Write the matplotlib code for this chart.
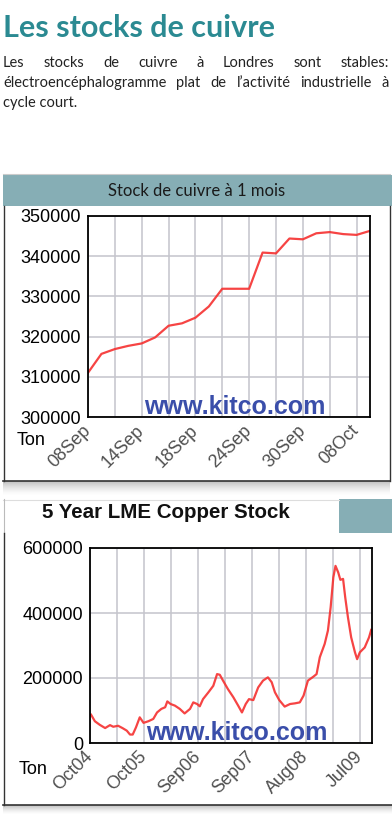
import matplotlib
matplotlib.use("Agg")
import matplotlib.pyplot as plt
from matplotlib.patches import Rectangle
from matplotlib.lines import Line2D
from matplotlib import font_manager

# --- data -------------------------------------------------------------
month_days = list(range(22))  # trading days from 08 Sep
month_stock = [311000, 315700, 316900, 317700, 318300, 319800, 322700, 323300,
               324700, 327500, 331900, 331900, 331900, 340900, 340700, 344400,
               344200, 345700, 346000, 345500, 345300, 346300]
month_ticks = [0, 4, 8, 12, 16, 20]
month_labels = ["08Sep", "14Sep", "18Sep", "24Sep", "30Sep", "08Oct"]
month_yticks = [300000, 310000, 320000, 330000, 340000, 350000]

lme_dates = [2004.77, 2004.84, 2004.93, 2005.03, 2005.12, 2005.18, 2005.27, 2005.35,
             2005.43, 2005.49, 2005.54, 2005.60, 2005.67, 2005.74, 2005.83, 2005.92,
             2005.99, 2006.07, 2006.14, 2006.18, 2006.24, 2006.32, 2006.41, 2006.50,
             2006.60, 2006.66, 2006.73, 2006.78, 2006.84, 2006.94, 2007.03, 2007.10,
             2007.15, 2007.21, 2007.30, 2007.40, 2007.49, 2007.56, 2007.63, 2007.69,
             2007.77, 2007.86, 2007.95, 2008.04, 2008.11, 2008.17, 2008.25, 2008.35,
             2008.45, 2008.54, 2008.63, 2008.70, 2008.78, 2008.88, 2008.94, 2009.00,
             2009.09, 2009.15, 2009.20, 2009.25, 2009.29, 2009.34, 2009.38, 2009.43,
             2009.47, 2009.52, 2009.58, 2009.65, 2009.69, 2009.74, 2009.83, 2009.91,
             2009.95]
lme_stock = [87000, 67000, 56000, 46000, 55000, 50000, 53000, 46000,
             38000, 26000, 26000, 48000, 79000, 62000, 67000, 74000,
             94000, 105000, 110000, 128000, 120000, 115000, 105000, 91000,
             105000, 125000, 120000, 113000, 135000, 156000, 176000, 212000,
             210000, 192000, 166000, 141000, 115000, 94000, 120000, 135000,
             132000, 171000, 192000, 202000, 187000, 156000, 132000, 112000,
             120000, 122000, 125000, 146000, 192000, 204000, 212000, 264000,
             305000, 346000, 417000, 510000, 545000, 525000, 502000, 505000,
             448000, 387000, 325000, 279000, 258000, 279000, 294000, 325000,
             348000]
lme_ticks = [2004.75, 2005.75, 2006.75, 2007.75, 2008.75, 2009.75]
lme_labels = ["Oct04", "Oct05", "Sep06", "Sep07", "Aug08", "Jul09"]
lme_yticks = [0, 200000, 400000, 600000]

title = "Les stocks de cuivre"
body1 = "Les stocks de cuivre à Londres sont stables:"
body2 = "électroencéphalogramme plat de l’activité industrielle à"
body3 = "cycle court."
panel1_title = "Stock de cuivre à 1 mois"
panel2_title = "5 Year LME Copper Stock"

# --- figure -----------------------------------------------------------
W, H = 392, 814
fig = plt.figure(figsize=(W / 100, H / 100), dpi=100)
fig.patch.set_facecolor("white")


def fx(x):
    return x / W


def fy(y):
    return 1 - y / H


def has_font(name):
    try:
        font_manager.findfont(name, fallback_to_default=False)
        return True
    except Exception:
        return False


narrow = "Liberation Sans Narrow" if has_font("Liberation Sans Narrow") else "Lato"
teal = "#2b8a92"
band = "#86aeb5"
line_red = "#f5302f"
blue = "#3a4eaa"


def rect(x0, y0, x1, y1, **kw):
    r = Rectangle((fx(x0), fy(y1)), fx(x1) - fx(x0), fy(y0) - fy(y1),
                  transform=fig.transFigure, **kw)
    fig.add_artist(r)


def hline(x0, x1, y, **kw):
    fig.add_artist(Line2D([fx(x0), fx(x1)], [fy(y), fy(y)], transform=fig.transFigure, **kw))


def vline(x, y0, y1, **kw):
    fig.add_artist(Line2D([fx(x), fx(x)], [fy(y0), fy(y1)], transform=fig.transFigure, **kw))


def shadow(x0, x1, y, n=14):
    for i in range(n):
        rect(x0, y + i, x1, y + i + 1, color="#666666", alpha=0.4 * (1 - i / n) ** 1.5, lw=0)


# header text
fig.text(fx(3), fy(37), title, color=teal, fontsize=22, fontweight="bold",
         family="Lato", ha="left", va="baseline")


def justify(text, y, x0, x1, **kw):
    words = text.split()
    ts = [fig.text(0, fy(y), w, ha="left", va="baseline", **kw) for w in words]
    fig.canvas.draw()
    r = fig.canvas.get_renderer()
    widths = [t.get_window_extent(r).width for t in ts]
    gap = ((x1 - x0) - sum(widths)) / (len(words) - 1)
    x = x0
    for t, w in zip(ts, widths):
        t.set_x(fx(x))
        x += w + gap


body_kw = dict(fontsize=10.5, family="Lato", color="#222222")
justify(body1, 67, 3, 389, **body_kw)
justify(body2, 87, 3, 389, **body_kw)
fig.text(fx(3), fy(107), body3, ha="left", va="baseline", **body_kw)

# panel 1 frame
shadow(3, 390, 481)
hline(3, 390, 173.5, color="#cccccc", lw=0.8)
rect(3, 175, 392, 206, color=band, lw=0)
vline(3.5, 206, 481, color="#333333", lw=1.0)
vline(389.5, 206, 481, color="#333333", lw=1.0)
hline(3, 390, 481, color="#333333", lw=1.2)
fig.text(fx(197), fy(191), panel1_title, family=narrow, fontsize=12,
         color="#1a1a1a", ha="center", va="center")

# panel 2 frame
shadow(3, 392, 805, n=9)
hline(3, 339, 499.5, color="#dddddd", lw=0.8)
rect(339, 499, 392, 533, color=band, lw=0)
vline(3.5, 499, 533, color="#bbbbbb", lw=0.8)
vline(3.5, 533, 805, color="#333333", lw=1.0)
hline(3, 392, 805, color="#333333", lw=1.2)
fig.text(fx(42), fy(513), panel2_title, family="Liberation Sans", fontsize=14.8,
         fontweight="bold", color="#111111", ha="left", va="center")


def style_axes(ax):
    ax.set_facecolor("white")
    ax.grid(True, color="#c4c4cc", lw=1.1)
    ax.set_axisbelow(True)
    for s in ax.spines.values():
        s.set_color("black")
        s.set_linewidth(1.3)
    ax.tick_params(length=0, pad=5)
    for lab in ax.get_yticklabels():
        lab.set_family("Liberation Sans")
        lab.set_fontsize(13)
        lab.set_color("black")
    for lab in ax.get_xticklabels():
        lab.set_family("Liberation Sans")
        lab.set_fontsize(13)
        lab.set_color("#505050")
        lab.set_rotation(45)
        lab.set_rotation_mode("anchor")
        lab.set_ha("right")
        lab.set_va("center")


# chart 1
ax1 = fig.add_axes([fx(88), fy(417), fx(370) - fx(88), fy(216) - fy(417)])
ax1.plot(month_days, month_stock, color=line_red, lw=1.6, alpha=0.9, clip_on=True)
ax1.set_xlim(0, 21)
ax1.set_ylim(300000, 350000)
ax1.set_yticks(month_yticks)
ax1.set_yticklabels([str(v) for v in month_yticks])
ax1.set_xticks(range(0, 21, 2))
ax1.set_xticklabels([month_labels[month_ticks.index(t)] if t in month_ticks else ""
                     for t in range(0, 21, 2)])
style_axes(ax1)
ax1.tick_params(axis="x", pad=8)
ax1.text(0.52, 0.05, "www.kitco.com", transform=ax1.transAxes, color=blue,
         fontsize=18, fontweight="bold", family="Liberation Sans",
         ha="center", va="center")
fig.text(fx(17), fy(441), "Ton", family="Liberation Sans", fontsize=13,
         color="black", ha="left", va="center")

# chart 2
ax2 = fig.add_axes([fx(90), fy(743), fx(372) - fx(90), fy(548) - fy(743)])
ax2.plot(lme_dates, lme_stock, color=line_red, lw=1.6, alpha=0.9)
ax2.set_xlim(2004.75, 2009.965)
ax2.set_ylim(0, 600000)
ax2.set_yticks(lme_yticks)
ax2.set_yticklabels([str(v) for v in lme_yticks])
grid_x = [2004.75 + 0.5 * k for k in range(11)]
ax2.set_xticks(grid_x)
ax2.set_xticklabels([lme_labels[lme_ticks.index(t)] if t in lme_ticks else ""
                     for t in grid_x])
style_axes(ax2)
ax2.tick_params(axis="x", pad=8)
ax2.text(0.52, 0.05, "www.kitco.com", transform=ax2.transAxes, color=blue,
         fontsize=18, fontweight="bold", family="Liberation Sans",
         ha="center", va="center")
fig.text(fx(19), fy(769), "Ton", family="Liberation Sans", fontsize=13,
         color="black", ha="left", va="center")

fig.savefig("out.png", dpi=100)
